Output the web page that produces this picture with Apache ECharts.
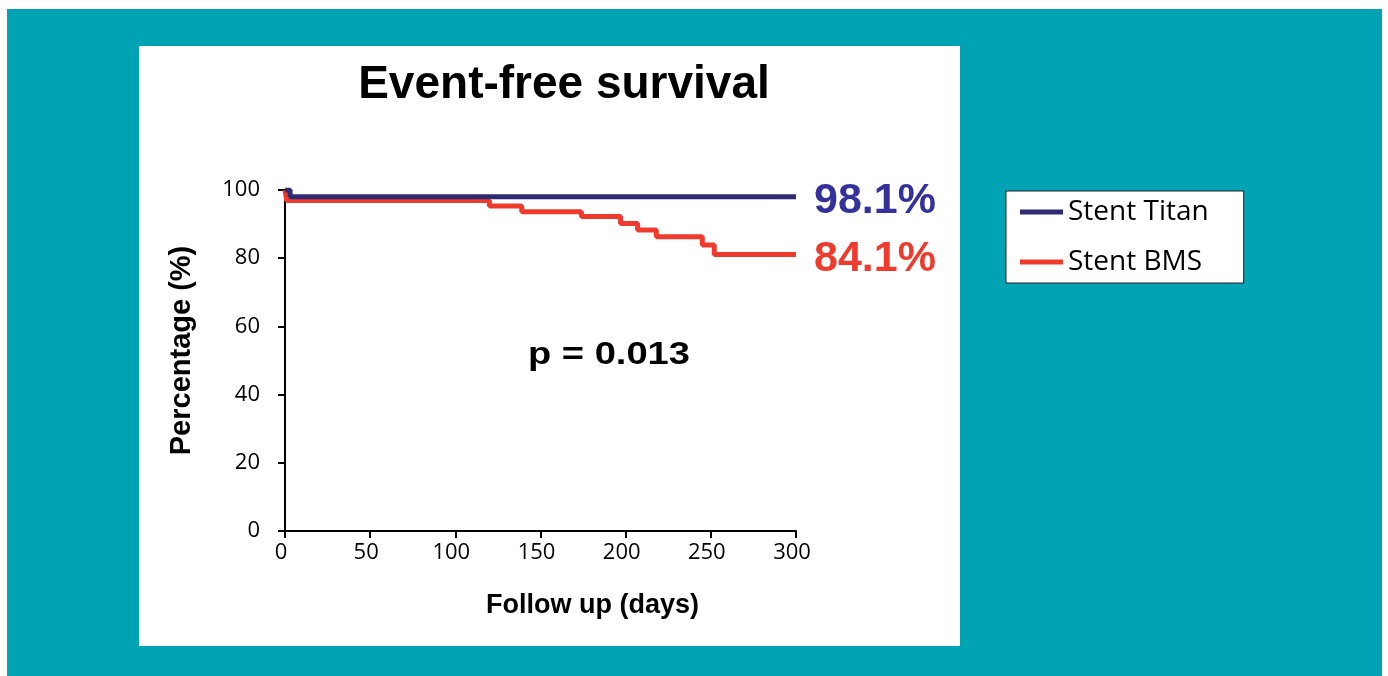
<!DOCTYPE html>
<html>
<head>
<meta charset="utf-8">
<script src="https://cdn.jsdelivr.net/npm/echarts@6/dist/echarts.min.js"></script>
<style>
html,body{margin:0;padding:0;background:#ffffff;}
#chart{width:1388px;height:676px;}
</style>
</head>
<body>
<div id="chart"></div>
<script>
// ---- data ----
const chartTitle = 'Event-free survival';
const seriesNames = ['Stent Titan', 'Stent BMS'];
const titanDays = [0, 3, 300];
const titanPct  = [100, 98.0, 98.0];
const bmsDays = [0, 1, 120, 139, 174, 197, 207, 218, 245, 252, 300];
const bmsPct  = [100, 96.9, 95.3, 93.6, 92.2, 90.2, 88.3, 86.3, 83.9, 81.1, 81.1];
const endLabels = ['98.1%', '84.1%'];
const pValueText = 'p = 0.013';
const xAxisName = 'Follow up (days)';
const yAxisName = 'Percentage (%)';
const xTicks = {min: 0, max: 300, interval: 50};
const yTicks = {min: 0, max: 100, interval: 20};

const BLUE = '#2e2b73';
const BLUE_TXT = '#34319a';
const RED = '#ef3a2e';
const TEAL = '#00a3b4';
const SANS = '"Liberation Sans", Arial, sans-serif';
const LABEL_FONT = '"Open Sans", "Noto Sans", sans-serif';

const zip = (a, b) => a.map((v, i) => [v, b[i]]);

const chart = echarts.init(document.getElementById('chart'), null, {renderer: 'canvas'});
chart.setOption({
  animation: false,
  backgroundColor: '#ffffff',
  graphic: [
    {type: 'rect', z: -10, silent: true, shape: {x: 7, y: 9, width: 1375, height: 667}, style: {fill: TEAL}},
    {type: 'rect', z: -9, silent: true, shape: {x: 139, y: 46, width: 821, height: 600}, style: {fill: '#ffffff'}},
    {type: 'text', z: 10, x: 609, y: 355, scaleX: 1.19, silent: true,
     style: {text: pValueText, fill: '#000', font: 'bold 32px ' + SANS, align: 'center', verticalAlign: 'middle'}}
  ],
  title: {
    text: chartTitle,
    left: 559,
    top: 57,
    textAlign: 'center',
    textStyle: {fontFamily: SANS, fontWeight: 'bold', fontSize: 46, color: '#000'}
  },
  legend: {
    orient: 'vertical',
    left: 1006,
    top: 191,
    padding: [7, 35, 7, 14],
    itemGap: 22,
    itemWidth: 43,
    itemHeight: 5,
    icon: 'rect',
    backgroundColor: '#ffffff',
    borderColor: '#222',
    borderWidth: 1,
    borderRadius: 0,
    data: seriesNames,
    textStyle: {fontFamily: LABEL_FONT, fontSize: 28, color: '#000', lineHeight: 28}
  },
  grid: {left: 285, top: 190, width: 511, height: 341, containLabel: false},
  xAxis: {
    type: 'value',
    min: xTicks.min, max: xTicks.max, interval: xTicks.interval,
    name: xAxisName,
    nameLocation: 'middle',
    nameGap: 61,
    nameTextStyle: {fontFamily: SANS, fontWeight: 'bold', fontSize: 27, color: '#000', padding: [0, 0, 0, 104]},
    axisLine: {show: true, onZero: false, lineStyle: {color: '#000', width: 2}},
    axisTick: {show: true, length: 7, lineStyle: {color: '#000', width: 2}},
    axisLabel: {margin: 11, fontFamily: LABEL_FONT, fontSize: 22, color: '#000', padding: [0, 8, 0, 0]},
    splitLine: {show: false}
  },
  yAxis: {
    type: 'value',
    min: yTicks.min, max: yTicks.max, interval: yTicks.interval,
    name: yAxisName,
    nameLocation: 'middle',
    nameGap: 89,
    nameTextStyle: {fontFamily: SANS, fontWeight: 'bold', fontSize: 29, color: '#000', padding: [0, 0, 0, 20]},
    axisLine: {show: true, onZero: false, lineStyle: {color: '#000', width: 2}},
    axisTick: {show: true, length: 7, lineStyle: {color: '#000', width: 2}},
    axisLabel: {margin: 25, fontFamily: LABEL_FONT, fontSize: 22, color: '#000'},
    splitLine: {show: false}
  },
  series: [
    {
      name: seriesNames[0],
      type: 'line',
      step: 'end',
      z: 4,
      symbol: 'none',
      color: BLUE,
      lineStyle: {color: BLUE, width: 5},
      data: zip(titanDays, titanPct),
      endLabel: {show: true, formatter: endLabels[0], distance: 18, offset: [0, 4],
                 fontFamily: SANS, fontWeight: 'bold', fontSize: 43, color: BLUE_TXT}
    },
    {
      name: seriesNames[1],
      type: 'line',
      step: 'end',
      z: 3,
      symbol: 'none',
      color: RED,
      lineStyle: {color: RED, width: 5},
      data: zip(bmsDays, bmsPct),
      endLabel: {show: true, formatter: endLabels[1], distance: 18, offset: [0, 5],
                 fontFamily: SANS, fontWeight: 'bold', fontSize: 43, color: RED}
    }
  ]
});
</script>
</body>
</html>
